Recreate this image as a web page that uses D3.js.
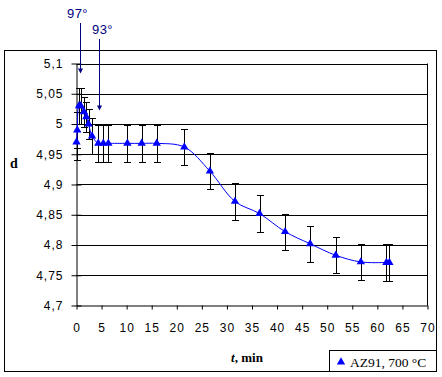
<!DOCTYPE html>
<html lang="en">
<head>
  <meta charset="UTF-8">
  <title>AZ91 density</title>
  <script src="https://d3js.org/d3.v7.min.js"></script>
  <style>
    body { margin: 0; background: #fff; }
    svg { display: block; }
  </style>
</head>
<body>
  <div id="chart"></div>
  <script>
    // values
    const times = [0, 0.15, 0.5, 0.85, 1.5, 1.95, 2.4, 3.1, 4.35, 5.35, 6.35, 10.15, 13.0, 16.0,
                   21.5, 26.6, 31.6, 36.5, 41.6, 46.6, 51.7, 56.7, 61.8, 62.4];
    const density = [4.97, 4.99, 5.03, 5.03, 5.02, 5.012, 5.0, 4.98, 4.968, 4.968, 4.968, 4.968, 4.968, 4.968,
                     4.962, 4.922, 4.872, 4.852, 4.822, 4.802, 4.783, 4.772, 4.771, 4.771];
    const errors = [0.03, 0.03, 0.03, 0.03, 0.025, 0.025, 0.025, 0.03, 0.03, 0.03, 0.03, 0.03, 0.03, 0.03,
                    0.03, 0.03, 0.03, 0.03, 0.03, 0.03, 0.03, 0.03, 0.03, 0.03];
    const xTicks = [0, 5, 10, 15, 20, 25, 30, 35, 40, 45, 50, 55, 60, 65, 70];
    const yTicks = [4.7, 4.75, 4.8, 4.85, 4.9, 4.95, 5.0, 5.05, 5.1];
    const yTickLabels = ["4,7", "4,75", "4,8", "4,85", "4,9", "4,95", "5", "5,05", "5,1"];
    const noteLabels = ["97°", "93°"];
    const noteTimes = [0.6, 4.4];
    const noteDensity = [5.085, 5.024];
    const legendLabel = "AZ91, 700 °C";

    const data = times.map((t, i) => ({ t: t, d: density[i], e: errors[i] }));

    const width = 442, height = 377;
    const svg = d3.select("#chart").append("svg")
      .attr("width", width)
      .attr("height", height);

    const x = d3.scaleLinear().domain([0, 70]).range([76.5, 427.5]);
    const y = d3.scaleLinear().domain([4.7, 5.1]).range([305.5, 63.5]);

    // outer frame
    svg.append("rect")
      .attr("x", 4.5).attr("y", 50.5)
      .attr("width", 432).attr("height", 321)
      .attr("fill", "#fff").attr("stroke", "#000");

    // gridlines
    svg.append("g")
      .selectAll("line")
      .data(yTicks.slice(1))
      .enter().append("line")
      .attr("x1", x(0)).attr("x2", x(70))
      .attr("y1", d => Math.round(y(d)) + 0.5)
      .attr("y2", d => Math.round(y(d)) + 0.5)
      .attr("stroke", "#000");

    // right edge of plot area
    svg.append("line")
      .attr("x1", x(70)).attr("x2", x(70))
      .attr("y1", y(5.1)).attr("y2", y(4.7))
      .attr("stroke", "#000");

    const yAxis = d3.axisLeft(y)
      .tickValues(yTicks)
      .tickSize(5)
      .tickSizeOuter(0)
      .tickPadding(8)
      .tickFormat((d, i) => yTickLabels[i]);

    const gy = svg.append("g")
      .attr("transform", `translate(${x(0)},0)`)
      .call(yAxis);
    gy.selectAll(".tick line").attr("x2", -5).attr("x1", 5);

    const xAxis = d3.axisBottom(x)
      .tickValues(xTicks)
      .tickSize(4)
      .tickSizeOuter(0)
      .tickPadding(14)
      .tickFormat(d => d);

    svg.append("g")
      .attr("transform", `translate(0,${y(4.7)})`)
      .call(xAxis);

    svg.selectAll(".domain").attr("stroke", "#000");
    svg.selectAll(".tick line").attr("stroke", "#000");
    svg.selectAll(".tick text")
      .attr("font-family", "'Liberation Sans', Arial, sans-serif")
      .attr("font-size", "12px")
      .attr("letter-spacing", "1px")
      .attr("fill", "#000");

    // error bars
    const eb = svg.append("g").attr("stroke", "#000").attr("fill", "none");
    data.forEach(p => {
      const cx = Math.round(x(p.t)) + 0.5;
      const top = Math.round(y(p.d + p.e)) + 0.5;
      const bot = Math.round(y(p.d - p.e)) + 0.5;
      eb.append("line").attr("x1", cx).attr("x2", cx).attr("y1", top).attr("y2", bot);
      eb.append("line").attr("x1", cx - 3.5).attr("x2", cx + 3.5).attr("y1", top).attr("y2", top);
      eb.append("line").attr("x1", cx - 3.5).attr("x2", cx + 3.5).attr("y1", bot).attr("y2", bot);
    });

    // smoothed line
    const line = d3.line()
      .x(d => x(d.t))
      .y(d => y(d.d))
      .curve(d3.curveCatmullRom.alpha(0.5));

    svg.append("path")
      .datum(data)
      .attr("d", line)
      .attr("fill", "none")
      .attr("stroke", "#0000ff")
      .attr("stroke-width", 1);

    const tri = d3.symbol().type(d3.symbolTriangle).size(30);

    svg.selectAll(".marker")
      .data(data)
      .enter().append("path")
      .attr("class", "marker")
      .attr("d", tri)
      .attr("transform", d => `translate(${x(d.t)},${y(d.d)})`)
      .attr("fill", "#0000ff");

    // temperature notes with arrows
    const notes = svg.append("g");
    const noteTextY = [18, 34];
    const noteTopY = [23, 39];
    noteLabels.forEach((lab, i) => {
      const ax = Math.round(x(noteTimes[i])) + 0.5;
      const ay = y(noteDensity[i]);
      notes.append("text")
        .attr("x", ax - 3 + i * 6)
        .attr("y", noteTextY[i])
        .attr("text-anchor", "middle")
        .attr("font-family", "'Liberation Sans', Arial, sans-serif")
        .attr("font-size", "13px")
        .attr("letter-spacing", "0.5px")
        .attr("fill", "#000080")
        .text(lab);
      notes.append("line")
        .attr("x1", ax).attr("x2", ax)
        .attr("y1", noteTopY[i]).attr("y2", ay - 3)
        .attr("stroke", "#000080");
      notes.append("path")
        .attr("d", `M${ax - 2.5},${ay - 4}L${ax + 2.5},${ay - 4}L${ax},${ay + 1}Z`)
        .attr("fill", "#000080");
    });

    // axis titles
    svg.append("text")
      .attr("x", 10).attr("y", 168)
      .attr("font-family", "'Liberation Serif', 'Times New Roman', serif")
      .attr("font-size", "14px")
      .attr("font-weight", "bold")
      .text("d");

    const xt = svg.append("text")
      .attr("x", 247).attr("y", 362)
      .attr("text-anchor", "middle")
      .attr("font-family", "'Liberation Serif', 'Times New Roman', serif")
      .attr("font-size", "13px")
      .attr("font-weight", "bold");
    xt.append("tspan").attr("font-style", "italic").text("t");
    xt.append("tspan").text(", min");

    // legend
    const lg = svg.append("g");
    lg.append("rect")
      .attr("x", 329.5).attr("y", 350.5)
      .attr("width", 107).attr("height", 21)
      .attr("fill", "#fff").attr("stroke", "#000");
    lg.append("path")
      .attr("d", tri)
      .attr("transform", "translate(341,362)")
      .attr("fill", "#0000ff");
    lg.append("text")
      .attr("x", 350).attr("y", 367)
      .attr("font-family", "'Liberation Serif', 'Times New Roman', serif")
      .attr("font-size", "13.5px")
      .text(legendLabel);
  </script>
</body>
</html>
